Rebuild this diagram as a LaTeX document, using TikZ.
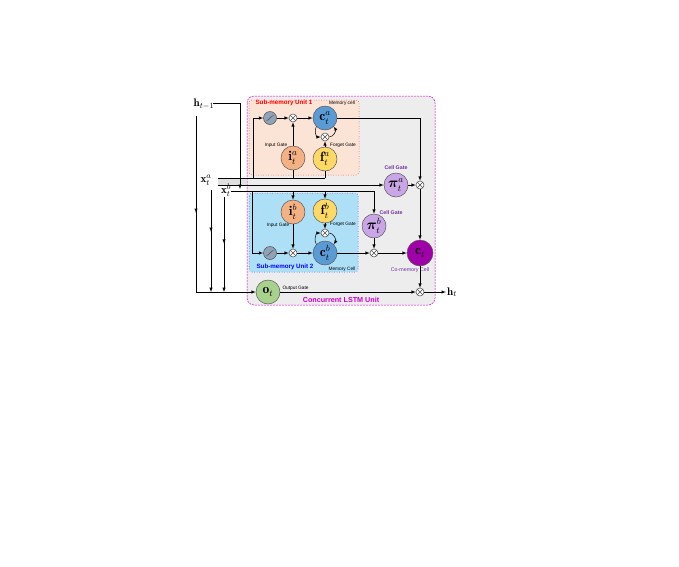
\documentclass[tikz,border=0pt]{standalone}
\usepackage{amsmath}
\usepackage{bm}
\usepackage{fontspec}
\setsansfont{Liberation Sans}
\usetikzlibrary{positioning,decorations.markings}

\definecolor{outerfill}{HTML}{EDEDED}
\definecolor{unitmagenta}{HTML}{CC00CC}
\definecolor{subafill}{HTML}{FBE3D5}
\definecolor{subbfill}{HTML}{ADDFF7}
\definecolor{cellblue}{HTML}{5B9BD5}
\definecolor{inputorange}{HTML}{F4B183}
\definecolor{forgetyellow}{HTML}{FFD966}
\definecolor{gatepurple}{HTML}{CBA6E6}
\definecolor{comempurple}{HTML}{A000A8}
\definecolor{outgreen}{HTML}{A9D18E}
\definecolor{tanhgray}{HTML}{8FA2B6}
\definecolor{labelpurple}{HTML}{7030A0}

\begin{document}
\begin{tikzpicture}[x=1pt, y=-1pt, on grid, >=latex, line width=0.5pt,
gatenode/.style={circle, draw=black!65, minimum size=24pt, inner sep=0pt, font=\fontsize{13.5}{15}\selectfont},
multnode/.style={circle, draw=black!70, fill=white, minimum size=8pt, inner sep=0pt,
  path picture={\draw[line width=0.4pt] (path picture bounding box.south west) -- (path picture bounding box.north east)
  (path picture bounding box.north west) -- (path picture bounding box.south east);}},
tanhnode/.style={circle, draw=black!70, fill=tanhgray, minimum size=13pt, inner sep=0pt,
  path picture={\draw[line width=0.5pt] ([xshift=-3.5pt,yshift=-2.5pt]path picture bounding box.center)
  .. controls +(3pt,0pt) and +(-3pt,0pt) .. ([xshift=3.5pt,yshift=2.5pt]path picture bounding box.center);}},
inlabel/.style={inner sep=1pt, font=\fontsize{11}{13}\selectfont},
smalllabel/.style={inner sep=0pt, font=\sffamily\fontsize{4.8}{5.5}\selectfont},
purplelabel/.style={inner sep=0pt, text=labelpurple, font=\sffamily\bfseries\fontsize{5.3}{6}\selectfont},
unitlabel/.style={inner sep=0pt, font=\sffamily\bfseries\fontsize{6.2}{7}\selectfont},
midarrow/.style={postaction={decorate}, decoration={markings, mark=at position #1 with {\arrow{latex}}}},
]
\useasboundingbox (0,0) rectangle (679,566);

%Boxes
\draw[unitmagenta, dash pattern=on 2pt off 1pt, fill=outerfill, rounded corners=7pt] (247,96) rectangle (435,305);
\draw[red, dotted, fill=subafill, rounded corners=3pt] (249,100) rectangle (359,175);
\draw[blue, dotted, fill=subbfill, rounded corners=3pt] (249,193) rectangle (358,272);
\fill[black!12] (218,178) rectangle (247,185);
\node[unitlabel, text=red] (unita) at (284,103) {Sub-memory Unit 1};
\node[unitlabel, text=blue] (unitb) at (285,267) {Sub-memory Unit 2};
\node[unitlabel, text=unitmagenta, font=\sffamily\bfseries\fontsize{7.2}{8}\selectfont] (unitc) at (341,300) {Concurrent LSTM Unit};

%Nodes
\node[tanhnode] (tanha) at (270,118) {};
\node[multnode] (xa) [right=23pt of tanha] {};
\node[gatenode, fill=cellblue] (ca) [right=32pt of xa] {$\mathbf{c}_t^a$};
\node[multnode] (xfa) [below=19pt of ca] {};
\node[gatenode, fill=forgetyellow] (fa) [below=41pt of ca] {$\mathbf{f}_t^a$};
\node[gatenode, fill=inputorange] (ia) [below=40pt of xa] {$\mathbf{i}_t^a$};

\node[tanhnode] (tanhb) at (270,253) {};
\node[multnode] (xb) [right=23pt of tanhb] {};
\node[gatenode, fill=cellblue] (cb) [right=32pt of xb] {$\mathbf{c}_t^b$};
\node[multnode] (xfb) [above=20pt of cb] {};
\node[gatenode, fill=forgetyellow] (fb) [above=42pt of cb] {$\mathbf{f}_t^b$};
\node[gatenode, fill=inputorange] (ib) [above=41pt of xb] {$\mathbf{i}_t^b$};

\node[multnode] (xpb) [right=49pt of cb] {};
\node[gatenode, fill=gatepurple] (pib) [above=27pt of xpb] {$\bm{\pi}_t^b$};
\node[gatenode, fill=comempurple, minimum size=26pt] (ct) [right=46pt of xpb] {$\mathbf{c}_t$};
\node[multnode] (xpa) [above=68pt of ct] {};
\node[gatenode, fill=gatepurple] (pia) [left=24pt of xpa] {$\bm{\pi}_t^a$};
\node[multnode] (xh) [below=39pt of ct] {};
\node[inlabel] (ht) [right=32pt of xh] {$\mathbf{h}_t$};
\node[gatenode, fill=outgreen] (ot) at (268,292) {$\mathbf{o}_t$};

\node[inlabel] (hprev) at (204,104) {$\mathbf{h}_{t-1}$};
\node[inlabel] (xalabel) at (206,180) {$\mathbf{x}_t^a$};
\node[inlabel] (xblabel) at (226,190) {$\mathbf{x}_t^b$};

%Labels
\node[smalllabel] (igatea) [above left=13pt and 17pt of ia] {Input Gate};
\node[smalllabel] (igateb) [below left=13pt and 15pt of ib] {Input Gate};
\node[smalllabel] (fgatea) [below right=8pt and 18pt of xfa] {Forget Gate};
\node[smalllabel] (fgateb) [below right=13pt and 18pt of fb] {Forget Gate};
\node[smalllabel] (mcella) [above right=15pt and 17pt of ca] {Memory cell};
\node[smalllabel] (mcellb) [below right=16pt and 17pt of cb] {Memory Cell};
\node[purplelabel] (pgatea) [above=17pt of pia] {Cell Gate};
\node[purplelabel] (pgateb) [above right=13pt and 17pt of pib] {Cell Gate};
\node[purplelabel, font=\sffamily\fontsize{5.3}{6}\selectfont] (comlabel) [below left=17pt and 10pt of ct] {Co-memory Cell};
\node[smalllabel, anchor=south west] (olabel) at ([xshift=2pt,yshift=1pt]ot.east) {Output Gate};

%Coordinates
\coordinate (busa) at (218,178);
\coordinate (bush) at (218,185);
\coordinate (busb) at (231,191);
\coordinate (hstart) at (213,103);
\coordinate (hdown) at (240,189);
\coordinate (vina) at (253,178);
\coordinate (vinb) at (252,191);
\coordinate (hleft) at (196,116);
\coordinate (xaleft) at (211,190);
\coordinate (xbleft) at (224,197);

%Lines
\draw[->] (hstart) -| (hdown);
\draw (busa) -- (fa.south |- busa);
\draw[->] (bush) -- (pia.west);
\draw[->] (busb) -| (pib.north);
\draw[midarrow=0.55] (hleft) -- (hleft |- ot);
\draw[->] (hleft |- ot) -- (ot.west);
\draw[->, midarrow=0.41] (xaleft) -- (xaleft |- ot);
\draw[->, midarrow=0.49] (xbleft) -- (xbleft |- ot);

\draw[->] (vina) |- (tanha.west);
\draw[->] (tanha) -- (xa);
\draw[->] (xa) -- (ca);
\draw (ia.south) -- (ia.south |- busa);
\draw (fa.south) -- (fa.south |- busa);
\draw[->] (ia) -- (xa);
\draw[->] (fa) -- (xfa);
\draw[->] (ca.225) to[out=235, in=180] (xfa.west);
\draw[->] (xfa.east) to[out=0, in=305] (ca.315);

\draw[->] (vinb) |- (tanhb.west);
\draw[->] (tanhb) -- (xb);
\draw[->] (xb) -- (cb);
\draw[->] (ib.north |- busb) -- (ib.north);
\draw[->] (fb.north |- busb) -- (fb.north);
\draw[->] (ib) -- (xb);
\draw[->] (fb) -- (xfb);
\draw[->] (cb.135) to[out=125, in=180] (xfb.west);
\draw[->] (xfb.east) to[out=0, in=55] (cb.45);

\draw[->] (ca.east) -| (xpa.north);
\draw[->] (pia) -- (xpa);
\draw[->] (xpa) -- (ct);
\draw[->] (cb) -- (xpb);
\draw[->] (pib) -- (xpb);
\draw[->] (xpb) -- (ct);
\draw[->] (ct) -- (xh);
\draw[->] (ot) -- (xh);
\draw[->] (xh) -- (ht);
\end{tikzpicture}
\end{document}
